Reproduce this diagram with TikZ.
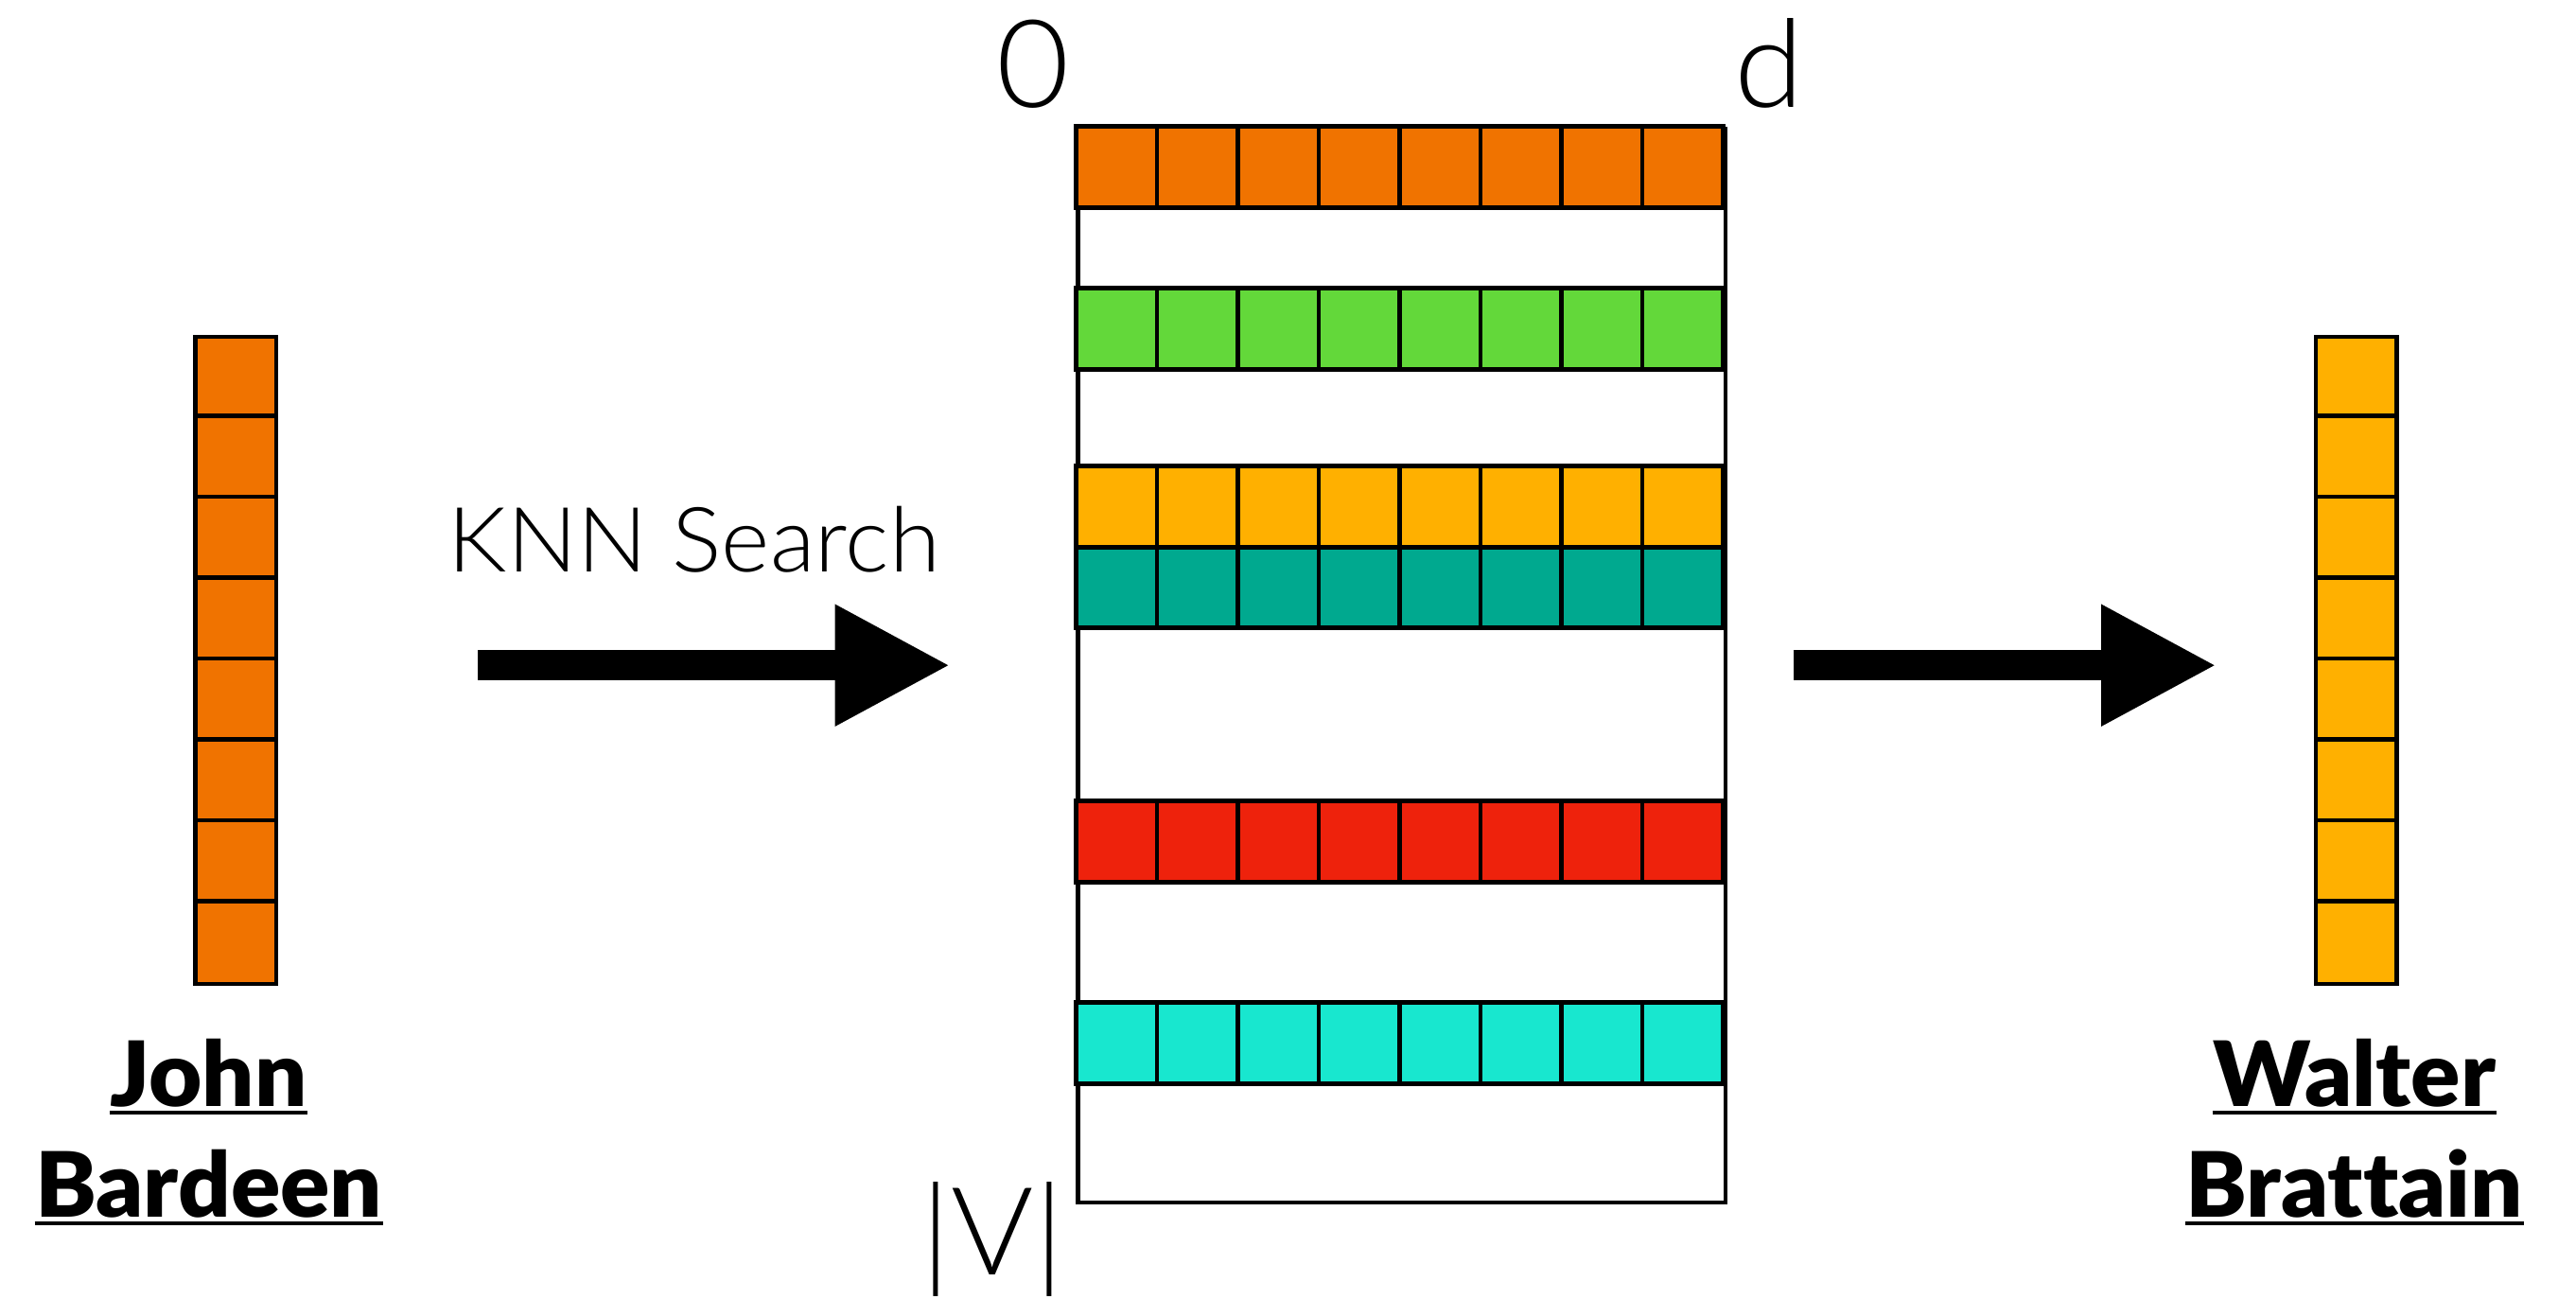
\documentclass[tikz,border=0pt]{standalone}
\usepackage{fontspec}
\setmainfont{Lato}
\newfontfamily\lightfont[FakeStretch=1.03]{Lato Light}
\newfontfamily\heavyfont[FakeStretch=1.02, Ligatures=NoCommon]{Lato Black}
\usetikzlibrary{arrows.meta}

\definecolor{embOrange}{HTML}{F07300}
\definecolor{embGreen}{HTML}{63D83A}
\definecolor{embYellow}{HTML}{FFB000}
\definecolor{embTeal}{HTML}{00A98F}
\definecolor{embRed}{HTML}{EE220C}
\definecolor{embCyan}{HTML}{18E7CF}

\tikzset{
  cell/.style={draw, line width=1.4pt},
  rowframe/.style={draw, line width=1.7pt},
  vecbox/.style={draw, line width=1.4pt, inner sep=0pt, minimum width=1cm, minimum height=8cm},
  bigarrow/.style={line width=0.37cm, -{Triangle[length=1.43cm, width=1.4cm]}},
  personname/.style={anchor=base, inner sep=0pt, font=\heavyfont\fontsize{31.7}{38}\selectfont},
  nameline/.style={line width=0.047cm},
  axislabel/.style={anchor=base, inner sep=0pt, font=\lightfont\fontsize{43}{50}\selectfont}
}

\begin{document}
\begin{tikzpicture}
  \useasboundingbox (-13.30,1.563) rectangle (18.54,-14.48);

  \node[draw, line width=1.4pt, inner sep=0pt, minimum width=8cm, minimum height=13.27cm, anchor=north west] (table) at (0,0) {};
  \foreach \y/\c in {0/embOrange, -2/embGreen, -4.2/embYellow, -5.2/embTeal, -8.34/embRed, -10.83/embCyan} {
    \fill[\c] (0,\y) rectangle ++(8,-1);
    \foreach \x in {1,...,7}
      \draw[cell] (\x,\y) -- ++(0,-1);
    \draw[rowframe] (0,\y) rectangle ++(8,-1);
  }

  \node[axislabel] (zero) at (-0.53,0.24) {0};
  \node[axislabel] (dim) at (8.57,0.23) {d};
  \node[axislabel] (vocab) at (-1.03,-14.19) {|V|};

  \node[vecbox, fill=embOrange] (query) at (-10.385,-6.60) {};
  \node[vecbox, fill=embYellow] (result) at (15.825,-6.60) {};
  \foreach \i in {1,...,7} {
    \draw[cell] ([yshift=-\i cm]query.north west) -- ++(1,0);
    \draw[cell] ([yshift=-\i cm]result.north west) -- ++(1,0);
  }

  \node[anchor=base, inner sep=0pt, font=\lightfont\fontsize{31.7}{38}\selectfont] (knn) at (-4.72,-5.50) {KNN Search};
  \draw[bigarrow, shorten <=2.47cm, shorten >=1.55cm] (query.east |- table.west) -- (table.west);
  \draw[bigarrow, shorten <=0.82cm, shorten >=1.20cm] (table.east) -- (table.east -| result.west);

  \node[personname] (john) at (-10.72,-12.11) {John};
  \node[personname] (bardeen) at (-10.72,-13.48) {Bardeen};
  \node[personname] (walter) at (15.80,-12.11) {Walter};
  \node[personname] (brattain) at (15.80,-13.48) {Brattain};
  \foreach \n in {john, bardeen, walter, brattain}
    \draw[nameline] ([yshift=-0.08cm]\n.base west) -- ([yshift=-0.08cm]\n.base east);
\end{tikzpicture}
\end{document}
